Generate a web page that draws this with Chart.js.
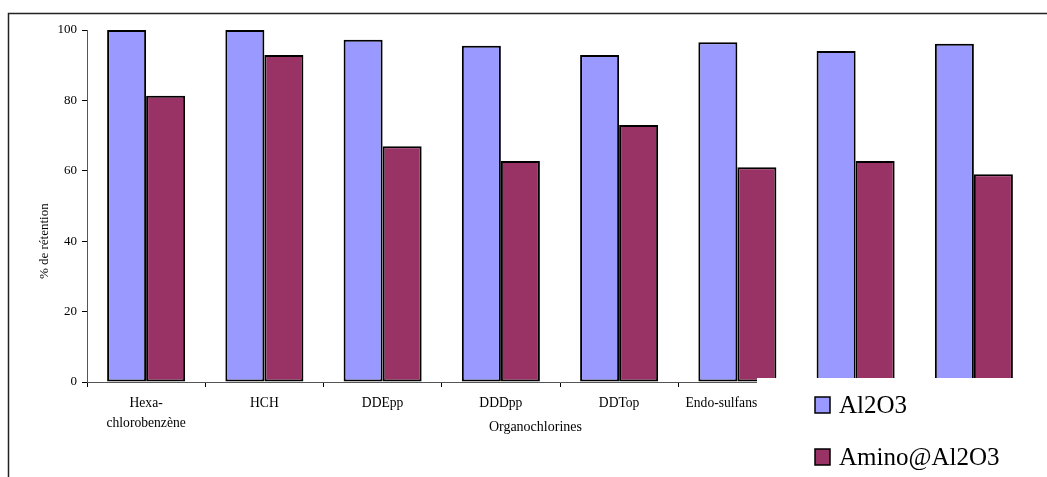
<!DOCTYPE html>
<html>
<head>
<meta charset="utf-8">
<script src="https://cdn.jsdelivr.net/npm/chart.js@4"></script>
<style>
  html, body { margin: 0; padding: 0; background: #fff; }
  #wrap { width: 1047px; height: 477px; }
</style>
</head>
<body>
<div id="wrap"><canvas id="c" width="1047" height="477"></canvas></div>
<script>
// Organochlorine retention on the two sorbents (%)
const categories = [['Hexa-', 'chlorobenzène'], 'HCH', 'DDEpp', 'DDDpp', 'DDTop', 'Endo-sulfans', '', ''];
const al2o3 = [100, 100, 97.2, 95.5, 92.9, 96.5, 94, 96.1];
const aminoAl2o3 = [81.3, 92.9, 67, 62.8, 73, 61, 62.8, 59];
const yTicks = [0, 20, 40, 60, 80, 100];

const serif = '"Liberation Serif", "DejaVu Serif", serif';

// Outer frame (top and left edges)
const framePlugin = {
  id: 'frame',
  beforeDraw(chart) {
    const ctx = chart.ctx;
    ctx.save();
    ctx.fillStyle = '#fff';
    ctx.fillRect(0, 0, chart.width, chart.height);
    ctx.strokeStyle = '#222';
    ctx.lineWidth = 1.5;
    ctx.beginPath();
    ctx.moveTo(8.5, chart.height);
    ctx.lineTo(8.5, 13.5);
    ctx.lineTo(chart.width, 13.5);
    ctx.stroke();
    ctx.restore();
  }
};

// Axis titles
const axisTitlesPlugin = {
  id: 'axisTitles',
  afterDraw(chart) {
    const ctx = chart.ctx;
    const a = chart.chartArea;
    ctx.save();
    ctx.fillStyle = '#000';
    ctx.font = '14px ' + serif;
    ctx.textAlign = 'center';
    ctx.textBaseline = 'middle';
    ctx.fillText('Organochlorines', a.left + (a.right - a.left) * 0.474, a.bottom + 45);
    ctx.translate(45, a.top + (a.bottom - a.top) * 0.6);
    ctx.rotate(-Math.PI / 2);
    ctx.font = '13px ' + serif;
    ctx.fillText('% de rétention', 0, 0);
    ctx.restore();
  }
};

// Category labels under the axis (the last one is nudged left of the legend box)
const catLabelsPlugin = {
  id: 'catLabels',
  afterDraw(chart) {
    const ctx = chart.ctx;
    const xs = chart.scales.x;
    ctx.save();
    ctx.fillStyle = '#000';
    ctx.font = '13.6px ' + serif;
    ctx.textAlign = 'center';
    ctx.textBaseline = 'middle';
    chart.data.labels.forEach((lab, i) => {
      const lines = Array.isArray(lab) ? lab : [lab];
      let x = xs.getPixelForValue(i);
      if (i === 5) x -= 16;
      lines.forEach((t, j) => ctx.fillText(t, x, xs.top + 21 + j * 20));
    });
    ctx.restore();
  }
};

// Legend box drawn over the lower right corner
const legendBoxPlugin = {
  id: 'legendBox',
  afterDraw(chart) {
    const ctx = chart.ctx;
    ctx.save();
    ctx.fillStyle = '#fff';
    ctx.fillRect(757, 378, chart.width - 757, chart.height - 378);
    ctx.font = '25px ' + serif;
    ctx.textBaseline = 'middle';
    chart.data.datasets.forEach((ds, i) => {
      const y = 405 + i * 52;
      ctx.fillStyle = ds.backgroundColor;
      ctx.fillRect(815, y - 8, 15, 16);
      ctx.strokeStyle = '#000';
      ctx.lineWidth = 1.5;
      ctx.strokeRect(815, y - 8, 15, 16);
      ctx.fillStyle = '#000';
      ctx.fillText(ds.label, 839, y + 1);
    });
    ctx.restore();
  }
};

new Chart(document.getElementById('c'), {
  type: 'bar',
  data: {
    labels: categories,
    datasets: [
      { label: 'Al2O3', data: al2o3, backgroundColor: '#9999FF', borderColor: '#000', borderWidth: 2, borderSkipped: false },
      { label: 'Amino@Al2O3', data: aminoAl2o3, backgroundColor: '#993366', borderColor: '#000', borderWidth: 2, borderSkipped: false }
    ]
  },
  options: {
    responsive: false,
    animation: false,
    devicePixelRatio: 1,
    layout: { padding: { top: 30, right: 14, left: 0, bottom: 0 } },
    datasets: { bar: { categoryPercentage: 0.66, barPercentage: 1.0 } },
    plugins: {
      legend: { display: false },
      tooltip: { enabled: false }
    },
    scales: {
      x: {
        grid: { display: true, drawOnChartArea: false, drawTicks: true, tickLength: 5, color: '#000', offset: true },
        border: { display: true, color: '#555', width: 1 },
        ticks: { display: false },
        afterFit(scale) { scale.height = 95; }
      },
      y: {
        min: 0,
        max: 100,
        afterBuildTicks(scale) { scale.ticks = yTicks.map(v => ({ value: v })); },
        grid: { display: true, drawOnChartArea: false, drawTicks: true, tickLength: 5, color: '#000' },
        border: { display: true, color: '#555', width: 1 },
        ticks: { color: '#000', font: { family: serif, size: 13 }, padding: 5 },
        afterFit(scale) { scale.width = 87; }
      }
    }
  },
  plugins: [framePlugin, axisTitlesPlugin, catLabelsPlugin, legendBoxPlugin]
});
</script>
</body>
</html>
